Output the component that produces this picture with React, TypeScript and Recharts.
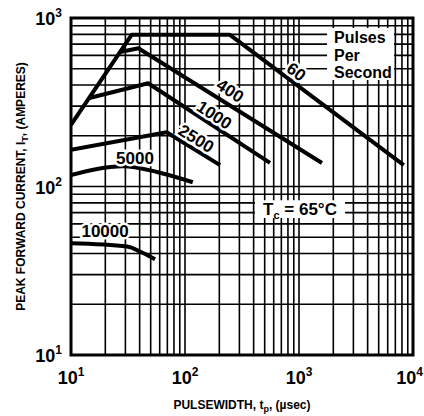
import React from "react";
import {
  LineChart,
  Line,
  XAxis,
  YAxis,
  CartesianGrid,
  ReferenceArea,
  ReferenceDot,
  Label,
} from "recharts";

const FONT = '"Liberation Sans", Arial, Helvetica, sans-serif';

// grid lines (log decades with 2..9 subdivisions)
const xGrid = [
  10, 20, 30, 40, 50, 60, 70, 80, 90,
  100, 200, 300, 400, 500, 600, 700, 800, 900,
  1000, 2000, 3000, 4000, 5000, 6000, 7000, 8000, 9000,
  10000,
];
const yGrid = [
  10, 20, 30, 40, 50, 60, 70, 80, 90,
  100, 200, 300, 400, 500, 600, 700, 800, 900,
  1000,
];
const xDecades = [10, 100, 1000, 10000];
const xExponents = ["1", "2", "3", "4"];
const yDecades = [10, 100, 1000];
const yExponents = ["1", "2", "3"];

// pulsewidth (usec) / peak current (A) per repetition rate
const pw60 = [10, 34, 248, 8300];
const amp60 = [232, 795, 795, 134];
const pw400 = [27, 39, 1590];
const amp400 = [628, 661, 138];
const pw1000 = [14.5, 47.5, 557];
const amp1000 = [335, 410, 138];
const pw2500 = [10, 69, 203];
const amp2500 = [165, 210, 134];
const pw5000 = [10, 28.6, 56.8, 117];
const amp5000 = [117, 132, 122, 106];
const pw10000 = [10, 31, 42.8, 54.6];
const amp10000 = [46, 44, 40.3, 37];

const toPoints = (t: number[], a: number[]) => t.map((v, i) => ({ t: v, a: a[i] }));

const XTick = (props: any) => {
  const { x, y, payload } = props;
  const i = xDecades.indexOf(payload.value);
  if (i < 0) return <g />;
  // last label would run past the right edge, so pin it to the edge
  const last = i === xDecades.length - 1;
  return (
    <text
      x={last ? x + 10 : x}
      y={y + 29}
      textAnchor={last ? "end" : "middle"}
      fontFamily={FONT}
      fontWeight="bold"
      fontSize={18}
      fill="#000"
    >
      10
      <tspan dy={-8} fontSize={12}>
        {xExponents[i]}
      </tspan>
    </text>
  );
};

const YTick = (props: any) => {
  const { x, y, payload } = props;
  const i = yDecades.indexOf(payload.value);
  if (i < 0) return <g />;
  return (
    <text x={x - 9} y={y + 7} textAnchor="end" fontFamily={FONT} fontWeight="bold" fontSize={18} fill="#000">
      10
      <tspan dy={-8} fontSize={12}>
        {yExponents[i]}
      </tspan>
    </text>
  );
};

const XTitle = (props: any) => {
  const { x, y, width } = props.viewBox;
  return (
    <text x={x + width / 2} y={y + 54} textAnchor="middle" fontFamily={FONT} fontWeight="bold" fontSize={12} fill="#000">
      PULSEWIDTH, t
      <tspan dy={3} fontSize={9}>p</tspan>
      <tspan dy={-3}>, (µsec)</tspan>
    </text>
  );
};

const YTitle = (props: any) => {
  const { y, height } = props.viewBox;
  const cx = 25;
  const cy = y + height / 2;
  return (
    <text
      x={cx}
      y={cy}
      transform={`rotate(-90, ${cx}, ${cy})`}
      textAnchor="middle"
      fontFamily={FONT}
      fontWeight="bold"
      fontSize={12}
      fill="#000"
    >
      PEAK FORWARD CURRENT, I
      <tspan dy={3} fontSize={9}>T</tspan>
      <tspan dy={-3}>, (AMPERES)</tspan>
    </text>
  );
};

const curveLabel = (text: string, angle: number) => (p: any) => (
  <text
    x={p.cx}
    y={p.cy}
    transform={`rotate(${angle}, ${p.cx}, ${p.cy})`}
    textAnchor="middle"
    dominantBaseline="central"
    fontFamily={FONT}
    fontWeight="bold"
    fontSize={17}
    fill="#000"
    stroke="#fff"
    strokeWidth={5}
    paintOrder="stroke"
  >
    {text}
  </text>
);

const plainText = (text: string) => (p: any) => (
  <text x={p.cx} y={p.cy + 5.5} fontFamily={FONT} fontWeight="bold" fontSize={16} fill="#000">
    {text}
  </text>
);

const tcLabel = (p: any) => (
  <text x={p.cx} y={p.cy + 6} textAnchor="middle" fontFamily={FONT} fontWeight="bold" fontSize={17} fill="#000">
    T<tspan dy={4} fontSize={11}>c</tspan>
    <tspan dy={-4}> = 65°C</tspan>
  </text>
);

const series = [
  { key: "60", t: pw60, a: amp60, type: "linear" },
  { key: "400", t: pw400, a: amp400, type: "linear" },
  { key: "1000", t: pw1000, a: amp1000, type: "linear" },
  { key: "2500", t: pw2500, a: amp2500, type: "linear" },
  { key: "5000", t: pw5000, a: amp5000, type: "monotone" },
  { key: "10000", t: pw10000, a: amp10000, type: "monotone" },
];

export default function App() {
  return (
    <div style={{ position: "absolute", left: 0, top: 0, background: "#fff" }}>
      <LineChart width={424} height={416} margin={{ top: 18, right: 11, bottom: 0, left: 0 }}>
        <CartesianGrid stroke="#000" strokeWidth={1.6} />
        <XAxis
          dataKey="t"
          type="number"
          scale="log"
          domain={[10, 10000]}
          ticks={xGrid}
          interval={0}
          allowDataOverflow
          axisLine={false}
          tickLine={false}
          tickSize={0}
          tickMargin={0}
          height={61}
          tick={<XTick />}
        >
          <Label content={<XTitle />} />
        </XAxis>
        <YAxis
          type="number"
          scale="log"
          domain={[10, 1000]}
          ticks={yGrid}
          interval={0}
          allowDataOverflow
          axisLine={false}
          tickLine={false}
          tickSize={0}
          tickMargin={0}
          width={71}
          tick={<YTick />}
        >
          <Label content={<YTitle />} />
        </YAxis>

        <ReferenceArea x1={1762} x2={6810} y1={428} y2={873} fill="#fff" fillOpacity={1} stroke="none" />
        <ReferenceArea x1={411} x2={2535} y1={65} y2={83} fill="#fff" fillOpacity={1} stroke="none" />
        <ReferenceArea x1={10} x2={10000} y1={10} y2={1000} fill="none" stroke="#000" strokeWidth={3} />

        {series.map((s) => (
          <Line
            key={s.key}
            data={toPoints(s.t, s.a)}
            dataKey="a"
            type={s.type as any}
            stroke="#000"
            strokeWidth={4}
            strokeLinejoin="round"
            dot={false}
            activeDot={false}
            isAnimationActive={false}
          />
        ))}

        <ReferenceDot x={942} y={478} r={0} shape={curveLabel("60", 37)} />
        <ReferenceDot x={248} y={369} r={0} shape={curveLabel("400", 33)} />
        <ReferenceDot x={180} y={265} r={0} shape={curveLabel("1000", 33)} />
        <ReferenceDot x={125} y={192} r={0} shape={curveLabel("2500", 32)} />
        <ReferenceDot x={36.4} y={147} r={0} shape={curveLabel("5000", 0)} />
        <ReferenceDot x={19.9} y={53.7} r={0} shape={curveLabel("10000", 0)} />
        <ReferenceDot x={2028} y={766} r={0} shape={plainText("Pulses")} />
        <ReferenceDot x={2028} y={603} r={0} shape={plainText("Per")} />
        <ReferenceDot x={2028} y={475} r={0} shape={plainText("Second")} />
        <ReferenceDot x={1020} y={73.5} r={0} shape={tcLabel} />
      </LineChart>
    </div>
  );
}
